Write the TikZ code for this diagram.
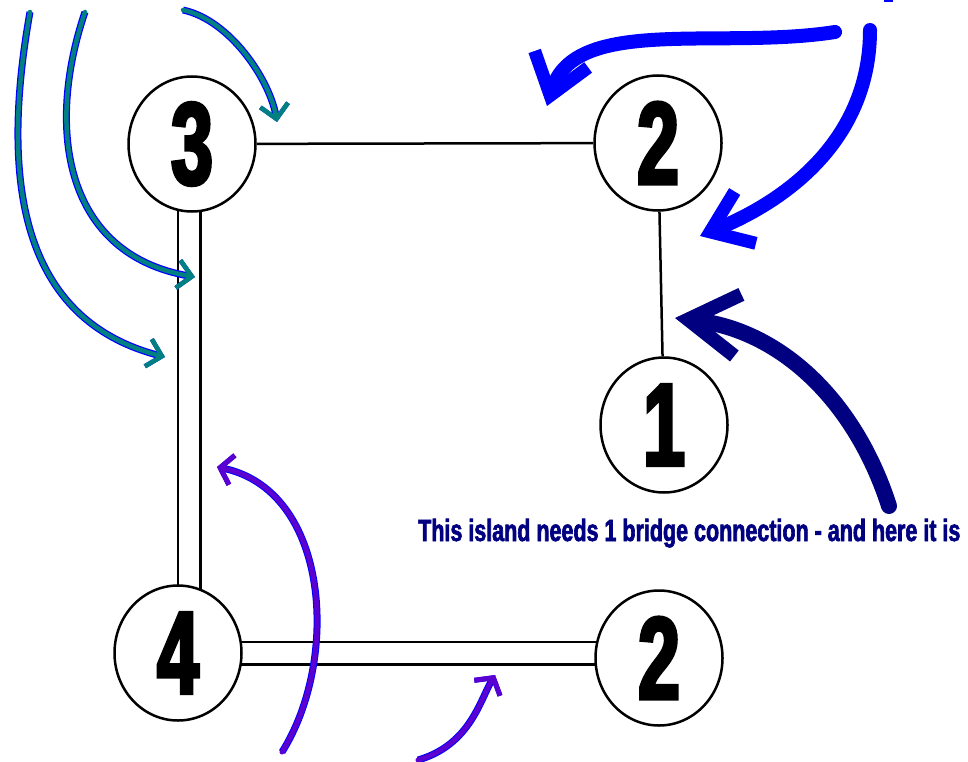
\documentclass[tikz,border=0pt]{standalone}
\usepackage{fontspec}
\usepackage{tikz}
\usetikzlibrary{shapes.geometric,arrows.meta,backgrounds}
\newfontfamily\islandfont[FakeStretch=0.64,FakeBold=3]{Liberation Sans Bold}
\newfontfamily\notefont[FakeStretch=0.70,FakeBold=2]{Liberation Sans Bold}
\definecolor{stroke-blue}{RGB}{0,0,255}
\definecolor{stroke-navy}{RGB}{0,0,128}
\definecolor{stroke-purple}{RGB}{90,0,208}
\definecolor{stroke-teal}{RGB}{0,128,128}
\tikzset{
    island/.style = {draw, fill=white, ellipse, line width=2.5pt, minimum width=127pt, minimum height=135pt, inner sep=0pt, font=\islandfont\fontsize{117}{117}\selectfont},
    bridge/.style = {line width=2.5pt},
    double-bridge/.style = {line width=2.5pt, double=white, double distance=20pt},
    teal-stroke/.style = {stroke-teal, line width=4.5pt, line cap=round, preaction={draw=stroke-blue, line width=7pt}, -{Straight Barb[length=14pt, width=28pt, line width=4.5pt]}},
    purple-stroke/.style = {stroke-purple, line width=5pt, line cap=round, preaction={draw=stroke-blue, line width=7pt}, -{Straight Barb[length=12pt, width=30pt, line width=5pt]}},
    blue-stroke/.style = {stroke-blue, line width=14pt, line cap=round, -{Straight Barb[length=38pt, width=56pt, line width=13pt]}},
    navy-stroke/.style = {stroke-navy, line width=16pt, line cap=round, -{Straight Barb[length=50pt, width=62pt, line width=14pt]}},
    note-text/.style = {stroke-navy, inner sep=0pt, font=\notefont\fontsize{30.7}{32}\selectfont},
}
\begin{document}
\begin{tikzpicture}[x=1pt, y=-1pt]
\useasboundingbox (0,0) rectangle (968,762);
% islands
\node[island] (n3) at (192,144) {3};
\node[island] (n2a) at (658,143) {2};
\node[island] (n1) at (664,425) {1};
\node[island] (n4) at (178,653) {4};
\node[island] (n2b) at (659,658) {2};
% bridges
\begin{pgfonlayer}{background}
\draw[bridge] (n3) -- (n2a);
\draw[bridge] (n2a) -- (n1);
\draw[double-bridge] ([xshift=-3pt]n3.center) -- ([xshift=11pt]n4.center);
\draw[double-bridge] (n4.center) -- (n4.center -| n2b.center);
\end{pgfonlayer}
% note
\node[note-text, anchor=base west] (note) at (418,541) {This island needs 1 bridge connection - and here it is};
% teal strokes
\coordinate (teal-a-start) at (30,12);
\coordinate (teal-a-end) at (165,357);
\coordinate (teal-b-start) at (85,12);
\coordinate (teal-b-end) at (195,277);
\coordinate (teal-c-start) at (183,10);
\coordinate (teal-c-end) at (277,122);
\draw[teal-stroke] (teal-a-start) .. controls (0,180) and (20,320) .. (teal-a-end);
\draw[teal-stroke] (teal-b-start) .. controls (45,130) and (65,255) .. (teal-b-end);
\draw[teal-stroke] (teal-c-start) .. controls (230,20) and (270,80) .. (teal-c-end);
% blue strokes
\coordinate (blue-a-start) at (835,32);
\coordinate (blue-a-end) at (547,106);
\coordinate (blue-b-start) at (870,30);
\coordinate (blue-b-end) at (700,236);
\draw[blue-stroke] (blue-a-start) .. controls (720,50) and (575,15) .. (blue-a-end);
\draw[blue-stroke] (blue-b-start) .. controls (870,130) and (800,195) .. (blue-b-end);
\fill[stroke-blue] (884,0) rectangle (893,2);
% navy stroke
\coordinate (navy-start) at (889,506);
\coordinate (navy-end) at (675,318);
\draw[navy-stroke] (navy-start) .. controls (855,400) and (780,330) .. (navy-end);
% purple strokes
\coordinate (purple-a-start) at (282,752);
\coordinate (purple-a-end) at (217,467);
\coordinate (purple-b-start) at (418,760);
\coordinate (purple-b-end) at (495,675);
\draw[purple-stroke] (purple-a-start) .. controls (340,660) and (330,490) .. (purple-a-end);
\draw[purple-stroke] (purple-b-start) .. controls (470,745) and (480,700) .. (purple-b-end);
\end{tikzpicture}
\end{document}
